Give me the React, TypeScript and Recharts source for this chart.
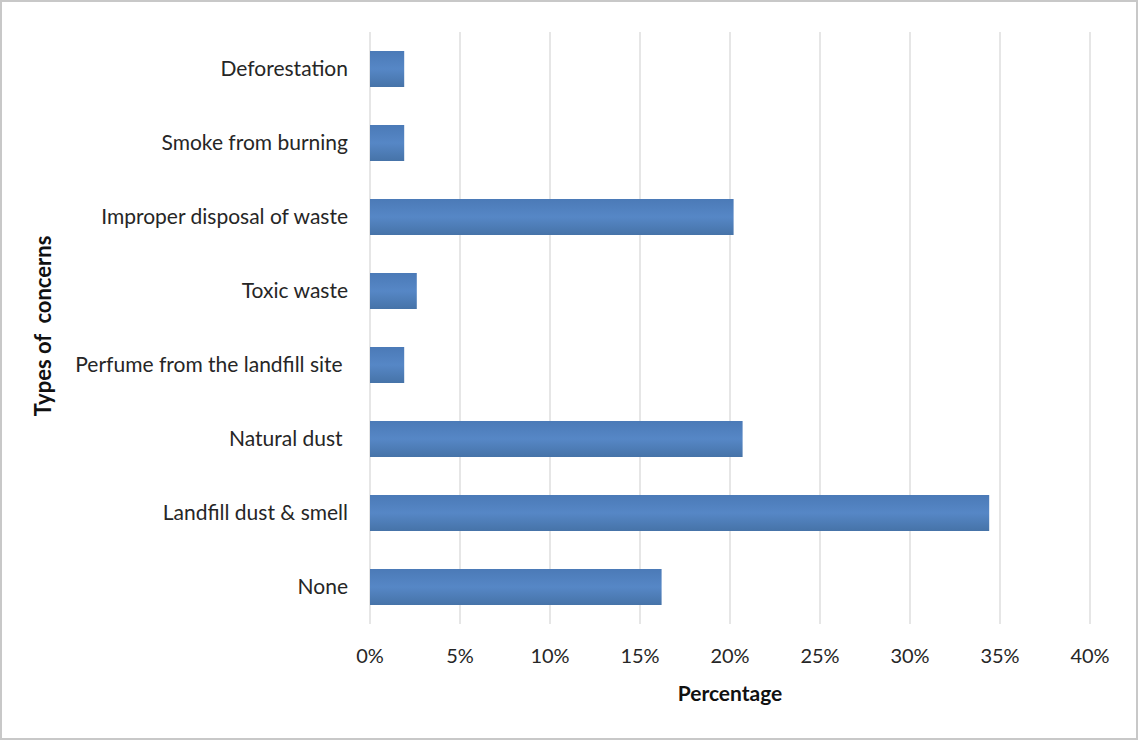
import { BarChart, Bar, XAxis, YAxis, CartesianGrid } from 'recharts'

const concerns = [
  'Deforestation',
  'Smoke from burning',
  'Improper disposal of waste',
  'Toxic waste',
  'Perfume from the landfill site ',
  'Natural dust ',
  'Landfill dust & smell',
  'None',
]
const shares = [0.019, 0.019, 0.202, 0.026, 0.019, 0.207, 0.344, 0.162]
const percentTicks = [0, 0.05, 0.1, 0.15, 0.2, 0.25, 0.3, 0.35, 0.4]

const FONT = 'Lato, "Open Sans", sans-serif'

const data = concerns.map((name, i) => ({ name, value: shares[i] }))

function ConcernTick(props: any) {
  const { x, y, payload } = props
  return (
    <text
      x={x}
      y={y}
      dy={7}
      textAnchor="end"
      fontFamily={FONT}
      fontSize={21}
      fill="#262626"
      style={{ whiteSpace: 'pre' }}
    >
      {payload.value}
    </text>
  )
}

function ConcernAxisTitle(props: any) {
  const { viewBox } = props
  const cx = 40
  const cy = viewBox.y + viewBox.height / 2 - 2
  return (
    <text
      x={cx}
      y={cy}
      transform={`rotate(-90 ${cx} ${cy})`}
      textAnchor="middle"
      dominantBaseline="central"
      fontFamily={FONT}
      fontSize={22}
      fontWeight={700}
      fill="#111"
      style={{ whiteSpace: 'pre' }}
    >
      Types of  concerns
    </text>
  )
}

export default function App() {
  return (
    <div
      style={{
        position: 'absolute',
        left: 0,
        top: 0,
        width: 1138,
        height: 740,
        boxSizing: 'border-box',
        border: '2px solid #c8c8c8',
        background: '#fff',
      }}
    >
      <BarChart
        width={1134}
        height={736}
        data={data}
        layout="vertical"
        margin={{ top: 30, right: 46, bottom: 34, left: 0 }}
        barSize={36}
      >
        <defs>
          <linearGradient id="barFill" x1="0" y1="0" x2="0" y2="1">
            <stop offset="0%" stopColor="#4b7ab7" />
            <stop offset="50%" stopColor="#5687c6" />
            <stop offset="100%" stopColor="#4673a8" />
          </linearGradient>
        </defs>
        <CartesianGrid horizontal={false} stroke="#d6d6d6" strokeWidth={1.2} />
        <XAxis
          type="number"
          domain={[0, 0.4]}
          ticks={percentTicks}
          tickFormatter={(v: number) => `${Math.round(v * 100)}%`}
          axisLine={false}
          tickLine={false}
          tickMargin={19}
          tick={{ fontFamily: FONT, fontSize: 20, fill: '#262626' }}
          height={80}
          label={{
            value: 'Percentage',
            position: 'insideBottom',
            offset: 3,
            style: { fontFamily: FONT, fontSize: 21, fontWeight: 700, fill: '#111' },
          }}
        />
        <YAxis
          type="category"
          dataKey="name"
          width={368}
          axisLine={false}
          tickLine={false}
          tickMargin={16}
          tick={<ConcernTick />}
          label={<ConcernAxisTitle />}
        />
        <Bar dataKey="value" fill="url(#barFill)" isAnimationActive={false} />
      </BarChart>
    </div>
  )
}
